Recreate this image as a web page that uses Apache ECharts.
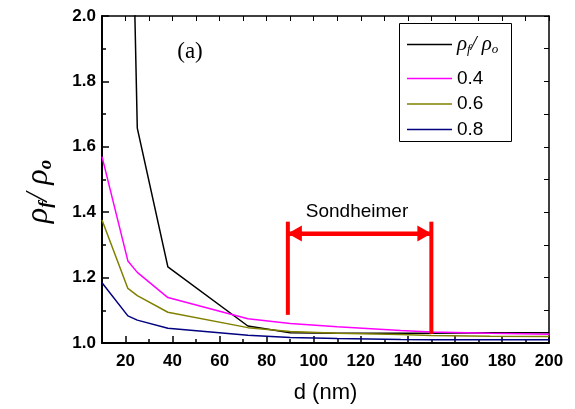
<!DOCTYPE html>
<html>
<head>
<meta charset="utf-8">
<script src="https://cdn.jsdelivr.net/npm/echarts@6/dist/echarts.min.js"></script>
<style>
  html, body { margin: 0; padding: 0; background: #fff; }
  #chart { width: 575px; height: 409px; }
</style>
</head>
<body>
<div id="chart"></div>
<script>
// Film thickness d (nm) at which the resistivity ratio was evaluated
const dNm = [10, 21, 25, 38, 72, 90, 110, 137, 150, 175, 200];

// Resistivity ratio rho_f / rho_0 for each curve
const ratioBlack = [null, 3.0, 1.657, 1.233, 1.052, 1.031, 1.030, 1.030, 1.030, 1.031, 1.031];
const ratio04 = [1.570, 1.251, 1.216, 1.139, 1.074, 1.060, 1.050, 1.038, 1.034, 1.030, 1.027];
const ratio06 = [1.376, 1.167, 1.145, 1.094, 1.047, 1.035, 1.030, 1.026, 1.023, 1.021, 1.020];
const ratio08 = [1.184, 1.083, 1.070, 1.045, 1.024, 1.017, 1.014, 1.011, 1.010, 1.010, 1.010];

const seriesNames = ['ρf/ρo', '0.4', '0.6', '0.8'];

// Sondheimer range marker (d in nm, ratio values)
const sondheimerD = [89, 150];
const sondheimerLeftBar = [1.086, 1.371];
const sondheimerRightBar = [1.028, 1.371];
const sondheimerArrowY = 1.335;
const sondheimerText = 'Sondheimer';
const panelTag = '(a)';

// Tick values
const xMajor = [20, 40, 60, 80, 100, 120, 140, 160, 180, 200];
const xMinor = [30, 50, 70, 90, 110, 130, 150, 170, 190];
const yMajor = [1.0, 1.2, 1.4, 1.6, 1.8, 2.0];
const yMinor = [1.1, 1.3, 1.5, 1.7, 1.9];

const pair = (xs, ys) => xs.map((x, i) => [x, ys[i]]);

const sansFont = 'Liberation Sans';
const serifFont = 'Liberation Serif';

// Arrow head whose tip sits at the symbol centre (a tiny helper triangle balances the box)
const arrowHead = 'path://M5,-14 L5.05,-14 L5,-13.95 Z M5,0 L10,14 L0,14 Z';

const chart = echarts.init(document.getElementById('chart'), null, { renderer: 'canvas' });

const frameAxisCommon = {
  type: 'value', min: 10, max: 200,
  splitLine: { show: false }
};

const option = {
  animation: false,
  backgroundColor: '#ffffff',
  grid: { left: 102, right: 26, top: 16, bottom: 66, containLabel: false },
  xAxis: [
    Object.assign({}, frameAxisCommon, {
      position: 'bottom',
      name: 'd (nm)', nameLocation: 'middle', nameGap: 39,
      nameTextStyle: { fontFamily: sansFont, fontSize: 22, color: '#000' },
      axisLine: { show: true, lineStyle: { color: '#000', width: 2 } },
      axisTick: { show: true, inside: true, length: 7, customValues: xMajor, lineStyle: { color: '#000', width: 1.5 } },
      axisLabel: { show: true, customValues: xMajor, margin: 10, fontFamily: sansFont, fontWeight: 'bold', fontSize: 17, color: '#000' }
    }),
    Object.assign({}, frameAxisCommon, {
      position: 'bottom',
      axisLine: { show: false },
      axisTick: { show: true, inside: true, length: 4, customValues: xMinor, lineStyle: { color: '#000', width: 1.5 } },
      axisLabel: { show: false }
    }),
    Object.assign({}, frameAxisCommon, {
      position: 'top',
      axisLine: { show: true, lineStyle: { color: '#000', width: 1.5 } },
      axisTick: { show: true, inside: true, length: 5, customValues: xMajor.concat(xMinor), lineStyle: { color: '#000', width: 1 } },
      axisLabel: { show: false }
    })
  ],
  yAxis: [
    {
      type: 'value', min: 1.0, max: 2.0, position: 'left',
      splitLine: { show: false },
      name: '{r|ρ}{s|f}{r|/ ρ}{s|o}', nameLocation: 'middle', nameGap: 46,
      nameTextStyle: {
        color: '#000',
        padding: [0, 24, 0, 0],
        rich: {
          r: { fontFamily: serifFont, fontStyle: 'italic', fontSize: 32, lineHeight: 34, color: '#000' },
          s: { fontFamily: serifFont, fontStyle: 'italic', fontWeight: 'bold', fontSize: 19, lineHeight: 18, verticalAlign: 'bottom', color: '#000' }
        }
      },
      axisLine: { show: true, lineStyle: { color: '#000', width: 2 } },
      axisTick: { show: true, inside: true, length: 7, customValues: yMajor, lineStyle: { color: '#000', width: 1.5 } },
      axisLabel: { show: true, customValues: yMajor, margin: 6, formatter: v => v.toFixed(1), fontFamily: sansFont, fontWeight: 'bold', fontSize: 17, color: '#000' }
    },
    {
      type: 'value', min: 1.0, max: 2.0, position: 'left',
      splitLine: { show: false },
      axisLine: { show: false },
      axisTick: { show: true, inside: true, length: 4, customValues: yMinor, lineStyle: { color: '#000', width: 1.5 } },
      axisLabel: { show: false }
    },
    {
      type: 'value', min: 1.0, max: 2.0, position: 'right',
      splitLine: { show: false },
      axisLine: { show: true, lineStyle: { color: '#000', width: 1.5 } },
      axisTick: { show: true, inside: true, length: 5, customValues: yMajor.concat(yMinor), lineStyle: { color: '#000', width: 1 } },
      axisLabel: { show: false }
    }
  ],
  legend: [
    {
      data: [seriesNames[0]], orient: 'vertical', left: 407, top: 34, padding: 0,
      icon: 'rect', itemWidth: 45, itemHeight: 1.5,
      formatter: () => '{r|ρ}{s|f}{r|/ ρ}{s|o}',
      textStyle: {
        color: '#000',
        rich: {
          r: { fontFamily: serifFont, fontStyle: 'italic', fontSize: 21, lineHeight: 24, color: '#000' },
          s: { fontFamily: serifFont, fontStyle: 'italic', fontSize: 13, lineHeight: 12, verticalAlign: 'bottom', color: '#000' }
        }
      }
    },
    {
      data: seriesNames.slice(1), orient: 'vertical', left: 407, top: 68.5, padding: 0,
      icon: 'rect', itemWidth: 45, itemHeight: 1.5, itemGap: 5.5,
      textStyle: { fontFamily: sansFont, fontSize: 19, lineHeight: 20, color: '#000' }
    }
  ],
  graphic: [
    { type: 'rect', shape: { x: 399.5, y: 23.5, width: 112, height: 118 }, style: { fill: 'none', stroke: '#000', lineWidth: 1 }, z: 10 },
    { type: 'text', x: 190, y: 52, style: { text: panelTag, font: '23px "Liberation Serif"', fill: '#000', align: 'center', verticalAlign: 'middle' }, z: 10 },
    { type: 'text', x: 357, y: 212, style: { text: sondheimerText, font: '19px "Liberation Sans"', fill: '#000', align: 'center', verticalAlign: 'middle' }, z: 10 }
  ],
  series: [
    { name: seriesNames[0], type: 'line', data: pair(dNm, ratioBlack), symbol: 'none', clip: true, lineStyle: { color: '#000000', width: 1.5 }, itemStyle: { color: '#000000' } },
    { name: seriesNames[1], type: 'line', data: pair(dNm, ratio04), symbol: 'none', clip: true, lineStyle: { color: '#ff00ff', width: 1.5 }, itemStyle: { color: '#ff00ff' } },
    { name: seriesNames[2], type: 'line', data: pair(dNm, ratio06), symbol: 'none', clip: true, lineStyle: { color: '#808000', width: 1.5 }, itemStyle: { color: '#808000' } },
    { name: seriesNames[3], type: 'line', data: pair(dNm, ratio08), symbol: 'none', clip: true, lineStyle: { color: '#000080', width: 1.5 }, itemStyle: { color: '#000080' } },
    // Sondheimer range: two vertical bars and a double-headed arrow
    { type: 'line', data: pair([sondheimerD[0], sondheimerD[0]], sondheimerLeftBar), symbol: 'none', lineStyle: { color: '#ff0000', width: 4 }, z: 5 },
    { type: 'line', data: pair([sondheimerD[1], sondheimerD[1]], sondheimerRightBar), symbol: 'none', lineStyle: { color: '#ff0000', width: 4 }, z: 5 },
    {
      type: 'line', data: pair(sondheimerD, [sondheimerArrowY, sondheimerArrowY]), symbol: 'none',
      lineStyle: { color: '#ff0000', width: 4 }, z: 5,
      markLine: {
        silent: true, animation: false,
        symbol: [arrowHead, arrowHead],
        symbolSize: [16, 28],
        label: { show: false },
        lineStyle: { color: '#ff0000', width: 4, type: 'solid' },
        emphasis: { disabled: true },
        data: [[
          { coord: [sondheimerD[0], sondheimerArrowY] },
          { coord: [sondheimerD[1], sondheimerArrowY] }
        ]]
      }
    }
  ]
};

chart.setOption(option);
</script>
</body>
</html>
